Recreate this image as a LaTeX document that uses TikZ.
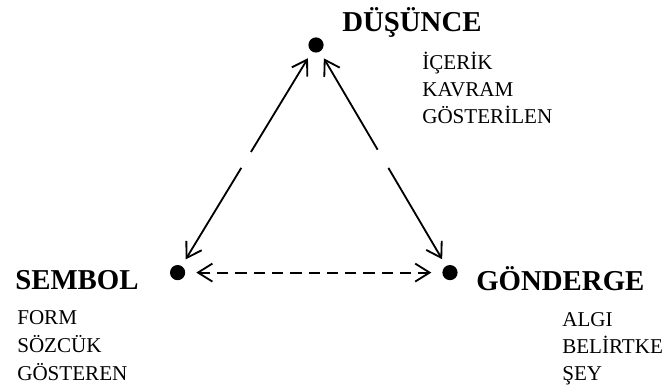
\documentclass[tikz,border=0pt]{standalone}
\usepackage{fontspec}
\setmainfont{Liberation Serif}
\usepackage{tikz}
\usetikzlibrary{arrows.meta,calc}

\begin{document}
\begin{tikzpicture}[
    dot/.style={circle,fill,inner sep=0pt,minimum size=0.38cm},
    head/.style={anchor=base west,inner sep=0pt,font=\fontsize{20.5}{24}\selectfont\bfseries},
    item/.style={anchor=base west,inner sep=0pt,font=\fontsize{15}{18}\selectfont},
    arr/.style={line width=1.3pt,-{Straight Barb[length=0.36cm,width=0.45cm,line width=1.3pt]},shorten >=0.19cm},
    darr/.style={line width=1.3pt,dash pattern=on 8pt off 5pt,{Straight Barb[length=0.36cm,width=0.45cm,line width=1.3pt]}-{Straight Barb[length=0.36cm,width=0.45cm,line width=1.3pt]},shorten <=0.27cm,shorten >=0.27cm}]
    \useasboundingbox (0,0) rectangle (16.625,9.725);

    % Corner points of the triangle
    \node[dot] (dus) at (7.9,8.6) {};
    \node[dot] (sem) at (4.44,2.91) {};
    \node[dot] (gon) at (11.25,2.91) {};

    % Headings
    \node[head] (dush) at (8.55,8.93) {DÜŞÜNCE};
    \node[head] (semh) at (0.375,2.475) {SEMBOL};
    \node[head] (gonh) at (11.9,2.45) {GÖNDERGE};

    % Word lists under the headings
    \node[item] (d1) at (10.55,7.99) {İÇERİK};
    \node[item] (d2) at (10.55,7.32) {KAVRAM};
    \node[item] (d3) at (10.55,6.64) {GÖSTERİLEN};
    \node[item] (s1) at (0.425,1.6) {FORM};
    \node[item] (s2) at (0.425,0.925) {SÖZCÜK};
    \node[item] (s3) at (0.425,0.225) {GÖSTEREN};
    \node[item] (g1) at (14.05,1.575) {ALGI};
    \node[item] (g2) at (14.05,0.888) {BELİRTKE};
    \node[item] (g3) at (14.05,0.212) {ŞEY};

    % Loose ends in the middle of the two sides
    \coordinate (l1) at ($(dus)!0.47!(sem)$);
    \coordinate (l2) at ($(dus)!0.54!(sem)$);
    \coordinate (r1) at ($(dus)!0.46!(gon)$);
    \coordinate (r2) at ($(dus)!0.54!(gon)$);

    % Arrows along the sides
    \draw[arr] (l1) -- (dus);
    \draw[arr] (l2) -- (sem);
    \draw[arr] (r1) -- (dus);
    \draw[arr] (r2) -- (gon);

    % Dashed base
    \draw[darr] (sem) -- (gon);
\end{tikzpicture}
\end{document}
